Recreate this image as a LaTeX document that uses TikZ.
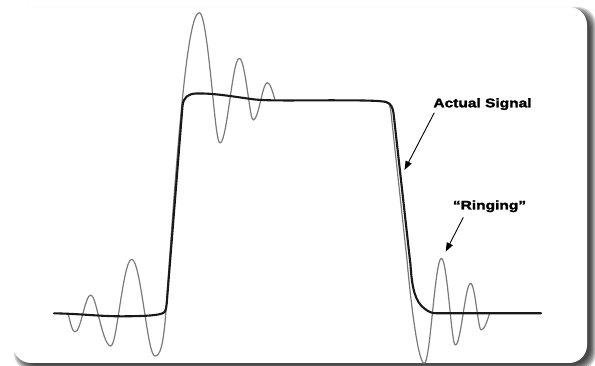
\documentclass[tikz,border=0pt]{standalone}
\usepackage{fontspec}
\newfontfamily\labfont{Liberation Sans}[FakeStretch=1.24, BoldFeatures={FakeBold=2}]
\usetikzlibrary{arrows.meta}
\begin{document}
\begin{tikzpicture}[x=1pt,y=-1pt,
  sig/.style={line width=2.1pt, color=black!90, line join=round, line cap=round},
  ring/.style={line width=1.2pt, color=black!52, line join=round},
  lab/.style={font=\labfont\bfseries\fontsize{12.5}{14}\selectfont, inner sep=0pt, anchor=base},
  pointer/.style={line width=0.9pt, -{Triangle[length=9pt,width=6.5pt]}}]
\useasboundingbox (0,0) rectangle (595,366);
\fill[white] (0,0) rectangle (595,366);
% frame shadow
\foreach \s in {4,3,...,-2}
  \fill[black, opacity=0.16, rounded corners=18pt] (18-\s,11-\s) rectangle (592+\s,367+\s);
\fill[white, rounded corners=18pt] (13,7) rectangle (587,363);
% ringing (grey)
\draw[ring] (68,313) sin (75,332) cos (83.1,313) sin (90.7,295) cos (97.8,313)
  sin (110.7,346) cos (118.7,313) sin (131.7,259.3) cos (144.7,313) sin (155,356)
  .. controls (160,356) and (163.5,346) .. (166,310)
  .. controls (177,150) and (187,12.7) .. (199.3,12.7)
  cos (213.2,100) sin (220,143) cos (229.8,100) sin (239.3,58.3) cos (248.8,100)
  sin (253.3,120) cos (260.8,100) sin (267.3,82.7) cos (275,100);
\draw[ring] (385,101) .. controls (389,102) and (390.5,106) .. (391,113) -- (407,260)
  .. controls (410.5,300) and (418,363.3) .. (424.3,363.3)
  cos (432.4,313.3) sin (441.4,258.3) cos (450.3,313.3) sin (455.4,345)
  cos (463.2,313.3) sin (470.6,283.3) cos (477.4,313.3) sin (481.2,330) cos (489.6,313.3);
% actual signal (black)
\draw[sig] (54,313.3) .. controls (85,314) and (100,316.5) .. (125,316.3)
  .. controls (145,316.1) and (160,315.5) .. (164,312.5)
  .. controls (166,311) and (166.6,306) .. (167,300) -- (182.5,106)
  .. controls (183.5,97) and (188,94) .. (196,93.5)
  .. controls (215,93) and (235,97) .. (255,99.5)
  .. controls (270,101) and (300,100.3) .. (330,100.3)
  .. controls (360,100.3) and (380,100.5) .. (386,102)
  .. controls (391,103.5) and (392.5,107) .. (393.5,113) -- (410.5,265)
  .. controls (412,288) and (415,302) .. (425,309)
  .. controls (429,312) and (432,313.3) .. (437,313.3) -- (541,313.3);
% labels
\node[lab] (actual) at (482.5,107.3) {Actual Signal};
\node[lab] (ringing) at (489.5,209.5) {“Ringing”};
\coordinate (aTail) at (434.3,112.7);
\coordinate (aTip) at (404.5,170);
\coordinate (rTail) at (463.3,217.3);
\coordinate (rTip) at (445.7,251.7);
\draw[pointer] (aTail) -- (aTip);
\draw[pointer] (rTail) -- (rTip);
\end{tikzpicture}
\end{document}
